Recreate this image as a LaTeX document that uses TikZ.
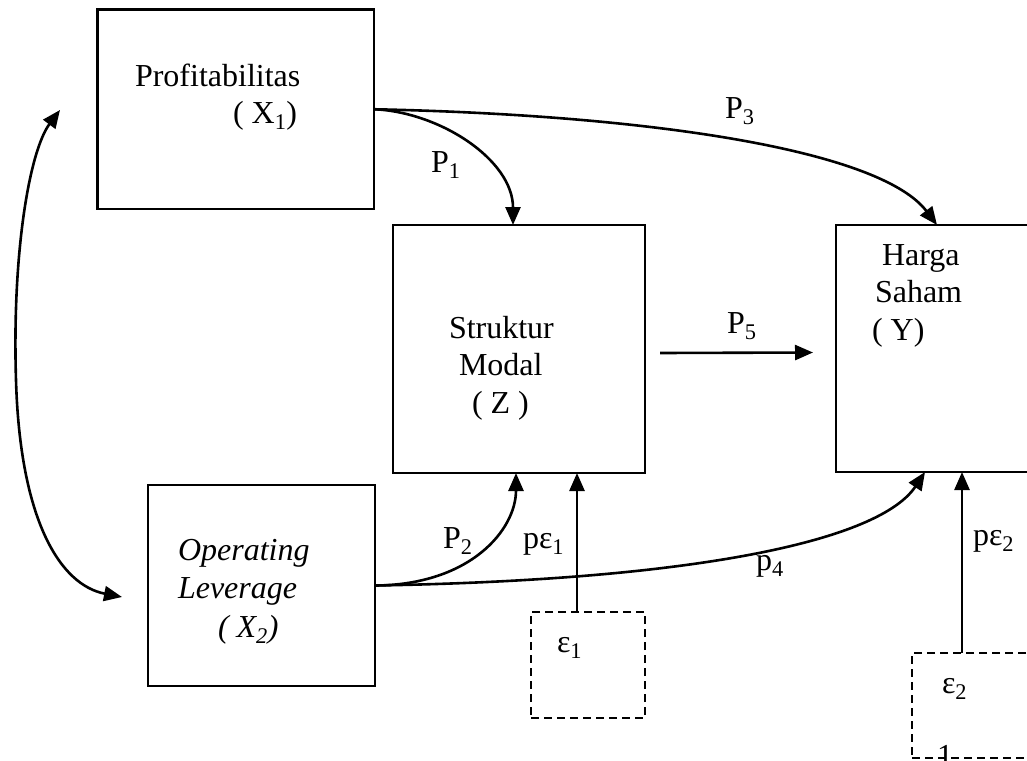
\documentclass[tikz,border=0pt]{standalone}
\usepackage{fontspec}
\setmainfont{Liberation Serif}
\usetikzlibrary{arrows.meta,calc}

\tikzset{
  txt/.style={anchor=base west, inner sep=0pt, outer sep=0pt,
              font=\fontsize{32}{38}\selectfont},
  itxt/.style={txt, font=\fontsize{32}{38}\selectfont\itshape},
  box/.style={draw, line width=2.2pt, inner sep=0pt, outer sep=0pt},
  dbox/.style={box, dash pattern=on 8pt off 5pt},
  tip/.style={Triangle[length=18pt,width=15pt]},
  link/.style={line width=2.6pt, -{Triangle[length=18pt,width=15pt]}},
  both/.style={line width=2.6pt, {Triangle[length=18pt,width=15pt]}-{Triangle[length=18pt,width=15pt]}}
}

\begin{document}
\begin{tikzpicture}[x=1pt,y=-1pt]
\useasboundingbox (0,0) rectangle (1027,760);
\clip (0,0) rectangle (1027,760);

% variable boxes
\node[box, minimum width=276.5pt, minimum height=199.5pt] (prof)  at (235.75,109.25) {};
\node[box, minimum width=252pt,   minimum height=248pt]   (struk) at (519,349) {};
\node[box, minimum width=228pt,   minimum height=247pt]   (harga) at (950,348.5) {};
\node[box, minimum width=227pt,   minimum height=201pt]   (ole)   at (261.5,585.5) {};
% residual boxes
\node[dbox, minimum width=114pt, minimum height=106pt] (e1) at (588,665) {};
\node[dbox, minimum width=128pt, minimum height=105pt] (e2) at (976,705.5) {};

% box texts
\node[txt]  (tprof)  at (135,86)  {Profitabilitas};
\node[txt]  (tx1)    at (233,123) {( X\textsubscript{1})};
\node[txt]  (tstr)   at (449,338) {Struktur};
\node[txt]  (tmod)   at (459,375) {Modal};
\node[txt]  (tz)     at (472,413) {( Z )};
\node[txt]  (thar)   at (882,265) {Harga};
\node[txt]  (tsah)   at (875,302) {Saham};
\node[txt]  (ty)     at (872,340) {( Y)};
\node[itxt] (top)    at (178,560) {Operating};
\node[itxt] (tlev)   at (178,598) {Leverage};
\node[itxt] (tx2)    at (218,637) {( X\textsubscript{2})};
\node[txt]  (te1)    at (557,652) {ε\textsubscript{1}};
\node[txt]  (te2)    at (942,693) {ε\textsubscript{2}};
\node[txt]  (tone)   at (937,766) {1};

% path coefficients
\node[txt] (lp1)  at (431,172) {P\textsubscript{1}};
\node[txt] (lp3)  at (725,118) {P\textsubscript{3}};
\node[txt] (lp5)  at (727,333) {P\textsubscript{5}};
\node[txt] (lp2)  at (443,548) {P\textsubscript{2}};
\node[txt] (lpe1) at (523,548) {pε\textsubscript{1}};
\node[txt] (lp4)  at (756,570) {p\textsubscript{4}};
\node[txt] (lpe2) at (973,545) {pε\textsubscript{2}};

% paths
\draw[link] (prof.east) .. controls (440,112) and (513,160) .. ([xshift=-6pt]struk.north);
\draw[link] (prof.east) .. controls (650,115) and (880,150) .. ([xshift=-13pt]harga.north);
\draw[link] (ole.east) .. controls (470,585) and (516,530) .. ([xshift=-3pt]struk.south);
\draw[link] (ole.east) .. controls (700,580) and (880,540) .. ([xshift=-25pt]harga.south);
\draw[link] ([shift={(15pt,-4pt)}]struk.east) -- ([shift={(-23pt,-4pt)}]harga.west);
\draw[link] ([xshift=-11pt]e1.north) -- ([xshift=-11pt]e1.north |- struk.south);
\draw[link] ([xshift=-14pt]e2.north) -- ([xshift=-14pt]e2.north |- harga.south);

% correlation between the exogenous variables
\coordinate (ctop) at (60,110);
\coordinate (cbot) at (122,597);
\draw[both] (cbot) .. controls (60,585) and (20,520) .. (16,380)
                   .. controls (12,250) and (30,150) .. (ctop);
\end{tikzpicture}
\end{document}
